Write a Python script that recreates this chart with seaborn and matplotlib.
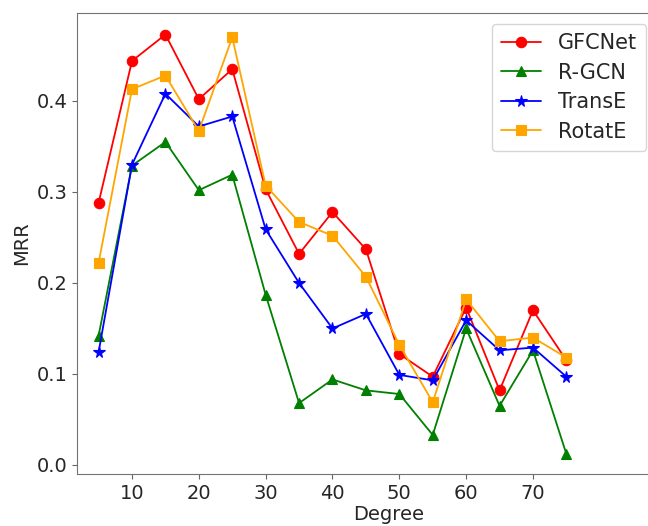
import pandas as pd
import matplotlib
matplotlib.use("Agg")
import matplotlib.pyplot as plt
import seaborn as sns

sns.set_style("ticks")
plt.rcParams['font.family'] = ['DejaVu Sans']

# %% datos
degree = [5, 10, 15, 20, 25, 30, 35, 40, 45, 50, 55, 60, 65, 70, 75]
gfcnet = [0.288, 0.444, 0.473, 0.402, 0.435, 0.303, 0.232, 0.278, 0.237, 0.122,
          0.097, 0.173, 0.082, 0.170, 0.115]
rgcn = [0.142, 0.329, 0.355, 0.302, 0.319, 0.187, 0.068, 0.094, 0.082, 0.078,
        0.033, 0.150, 0.065, 0.126, 0.012]
transe = [0.124, 0.330, 0.408, 0.372, 0.383, 0.259, 0.200, 0.150, 0.166, 0.099,
          0.093, 0.159, 0.126, 0.129, 0.097]
rotate = [0.222, 0.413, 0.428, 0.367, 0.470, 0.307, 0.267, 0.252, 0.207, 0.132,
          0.069, 0.182, 0.136, 0.140, 0.118]

modelos = ["GFCNet", "R-GCN", "TransE", "RotatE"]
valores = [gfcnet, rgcn, transe, rotate]
colores = ["red", "green", "blue", "orange"]
marcadores = ["o", "^", "*", "s"]
tamanos = [7.5, 7.5, 8.5, 7.5]

# %% grafico
fig = plt.figure(figsize=(6.48, 5.26), dpi=100)
# el original esta recortado a la derecha: el eje se sale del lienzo
ax = fig.add_axes([77 / 648, 1 - 474 / 526, (700 - 77) / 648, (474 - 13) / 526])

for nombre, vals, c, m, t in zip(modelos, valores, colores, marcadores, tamanos):
    df = pd.DataFrame({"Degree": degree, "MRR": vals})
    sns.lineplot(data=df, x="Degree", y="MRR", ax=ax, color=c, marker=m,
                 markersize=t, markeredgecolor=c, markeredgewidth=0.8,
                 linewidth=1.3, label=nombre)

ax.set_xlim(1.77, 1.77 + (700 - 77) / 6.683)
ax.set_ylim(-0.0099, 0.4967)
ax.set_xticks([10, 20, 30, 40, 50, 60, 70])
ax.set_yticks([0.0, 0.1, 0.2, 0.3, 0.4])
ax.tick_params(labelsize=14, color="0.4")
for s in ax.spines.values():
    s.set_color("0.45")
ax.spines["right"].set_visible(False)

ax.set_xlabel("Degree", fontsize=14, labelpad=2)
ax.set_ylabel("MRR", fontsize=14)

ax.legend(loc="upper right", bbox_to_anchor=(646 / 648, 1 - 24 / 526),
          bbox_transform=fig.transFigure, borderaxespad=0, fontsize=15,
          frameon=True, handlelength=1.9, borderpad=0.45, labelspacing=0.45)

plt.savefig("out.png", dpi=100)
